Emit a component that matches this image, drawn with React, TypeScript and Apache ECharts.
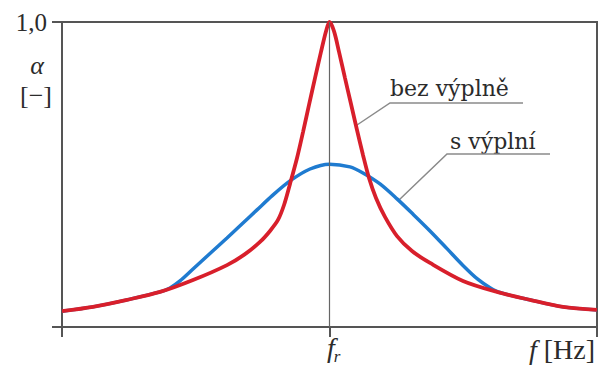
import React, { useEffect, useRef } from "react";
import * as echarts from "echarts";

// Frequency axis runs 0..100 with the resonance frequency f_r at its middle.
const fMin = 0;
const fMax = 100;
const fResonance = 50;

// Absorption coefficient without filling (sharp resonance peak).
const redF = [0, 5.79, 12.15, 18.32, 24.49, 30.84, 34.21, 37.01, 38.88, 40.37, 41.5, 42.62, 43.93, 45.05, 46.17, 47.29, 48.41, 49.35, 50, 50.84, 51.78, 52.9, 54.02, 55.14, 56.26, 57.38, 58.69, 60.37, 62.62, 65.42, 68.79, 74.95, 81.31, 87.48, 93.64, 100];
const redAlpha = [0.052, 0.066, 0.089, 0.115, 0.154, 0.203, 0.239, 0.279, 0.315, 0.351, 0.4, 0.469, 0.554, 0.639, 0.728, 0.816, 0.902, 0.97, 1.0, 0.97, 0.902, 0.816, 0.731, 0.646, 0.564, 0.489, 0.423, 0.361, 0.298, 0.249, 0.21, 0.151, 0.115, 0.089, 0.066, 0.056];

// Absorption coefficient with filling (broad, lower peak).
const blueF = [0, 5.79, 12.15, 18.32, 20.19, 22.06, 24.49, 27.66, 30.84, 33.83, 36.45, 39.25, 42.62, 46.36, 50, 53.83, 56.26, 59.44, 62.62, 65.61, 68.79, 71.96, 74.95, 77.76, 80.0, 81.87, 87.48, 93.64, 100];
const blueAlpha = [0.052, 0.066, 0.089, 0.115, 0.128, 0.151, 0.19, 0.241, 0.292, 0.341, 0.384, 0.43, 0.479, 0.518, 0.534, 0.525, 0.505, 0.469, 0.42, 0.37, 0.315, 0.257, 0.202, 0.156, 0.129, 0.113, 0.089, 0.066, 0.056];

const yTickLabels: Record<number, string> = { 1: "1,0" };

const SERIF = '"Liberation Serif", "Times New Roman", serif';
const LABEL_SERIF = '"DejaVu Serif", serif';
const AXIS_COLOR = "#555";
const TEXT_COLOR = "#2b2b2b";
const LEADER_COLOR = "#8a8a8a";

const zip = (xs: number[], ys: number[]) => xs.map((x, i) => [x, ys[i]]);

export default function App() {
  const ref = useRef<HTMLDivElement>(null);

  useEffect(() => {
    document.body.style.margin = "0";
    if (!ref.current) return;
    const chart = echarts.init(ref.current, undefined, { renderer: "svg" });

    chart.setOption({
      animation: false,
      backgroundColor: "#ffffff",
      grid: {
        left: 62,
        right: 1,
        top: 22,
        bottom: 40,
        show: true,
        borderColor: AXIS_COLOR,
        borderWidth: 2,
      },
      xAxis: {
        type: "value",
        min: fMin,
        max: fMax,
        interval: fResonance,
        axisLine: { show: true, lineStyle: { color: AXIS_COLOR, width: 2 } },
        axisTick: { show: true, length: 10, lineStyle: { color: AXIS_COLOR, width: 2 } },
        axisLabel: { show: false },
        splitLine: { show: false },
      },
      yAxis: {
        type: "value",
        min: 0,
        max: 1,
        interval: 1,
        axisLine: { show: true, lineStyle: { color: AXIS_COLOR, width: 2 } },
        axisTick: { show: true, length: 10, lineStyle: { color: AXIS_COLOR, width: 2 } },
        axisLabel: {
          margin: 15,
          formatter: (v: number) => yTickLabels[v] ?? "",
          fontFamily: SERIF,
          fontSize: 25,
          color: TEXT_COLOR,
        },
        splitLine: { show: false },
      },
      series: [
        {
          name: "s výplní",
          type: "line",
          data: zip(blueF, blueAlpha),
          smooth: 0.3,
          showSymbol: false,
          lineStyle: { color: "#1f7bd0", width: 3.5 },
          z: 2,
        },
        {
          name: "bez výplně",
          type: "line",
          data: zip(redF, redAlpha),
          smooth: 0.3,
          showSymbol: false,
          lineStyle: { color: "#d81f2b", width: 3.8 },
          z: 3,
          markLine: {
            silent: true,
            symbol: "none",
            label: { show: false },
            lineStyle: { color: "#666", width: 1.2, type: "solid" },
            data: [{ xAxis: fResonance }],
          },
        },
      ],
      graphic: [
        {
          type: "text",
          x: 37,
          y: 65,
          style: {
            text: "α",
            fontFamily: SERIF,
            fontStyle: "italic",
            fontSize: 26,
            fill: TEXT_COLOR,
            textAlign: "center",
            textVerticalAlign: "middle",
          },
        },
        {
          type: "text",
          x: 36,
          y: 95,
          style: {
            text: "[−]",
            fontFamily: SERIF,
            fontSize: 26,
            fill: TEXT_COLOR,
            textAlign: "center",
            textVerticalAlign: "middle",
          },
        },
        {
          type: "text",
          x: 331,
          y: 347,
          style: {
            text: "f",
            fontFamily: SERIF,
            fontStyle: "italic",
            fontSize: 28,
            fill: TEXT_COLOR,
            textAlign: "center",
            textVerticalAlign: "middle",
          },
        },
        {
          type: "text",
          x: 337,
          y: 356,
          style: {
            text: "r",
            fontFamily: SERIF,
            fontStyle: "italic",
            fontSize: 17,
            fill: TEXT_COLOR,
            textAlign: "center",
            textVerticalAlign: "middle",
          },
        },
        {
          type: "text",
          x: 595,
          y: 349,
          style: {
            text: "{i|f} [Hz]",
            fontFamily: SERIF,
            fontSize: 28,
            fill: TEXT_COLOR,
            textAlign: "right",
            textVerticalAlign: "middle",
            rich: {
              i: { fontFamily: SERIF, fontStyle: "italic", fontSize: 28, fill: TEXT_COLOR },
            },
          },
        },
        {
          type: "text",
          x: 390,
          y: 88,
          style: {
            text: "bez výplně",
            fontFamily: LABEL_SERIF,
            fontSize: 22,
            fill: TEXT_COLOR,
            textAlign: "left",
            textVerticalAlign: "middle",
          },
        },
        {
          type: "polyline",
          shape: { points: [[523, 103], [390, 103], [357, 125]] },
          style: { stroke: LEADER_COLOR, lineWidth: 1.5, fill: "none" },
        },
        {
          type: "text",
          x: 450,
          y: 141,
          style: {
            text: "s výplní",
            fontFamily: LABEL_SERIF,
            fontSize: 22,
            fill: TEXT_COLOR,
            textAlign: "left",
            textVerticalAlign: "middle",
          },
        },
        {
          type: "polyline",
          shape: { points: [[550, 154], [447, 154], [399, 200]] },
          style: { stroke: LEADER_COLOR, lineWidth: 1.5, fill: "none" },
        },
      ],
    });

    return () => chart.dispose();
  }, []);

  return <div ref={ref} style={{ width: 598, height: 367 }} />;
}
